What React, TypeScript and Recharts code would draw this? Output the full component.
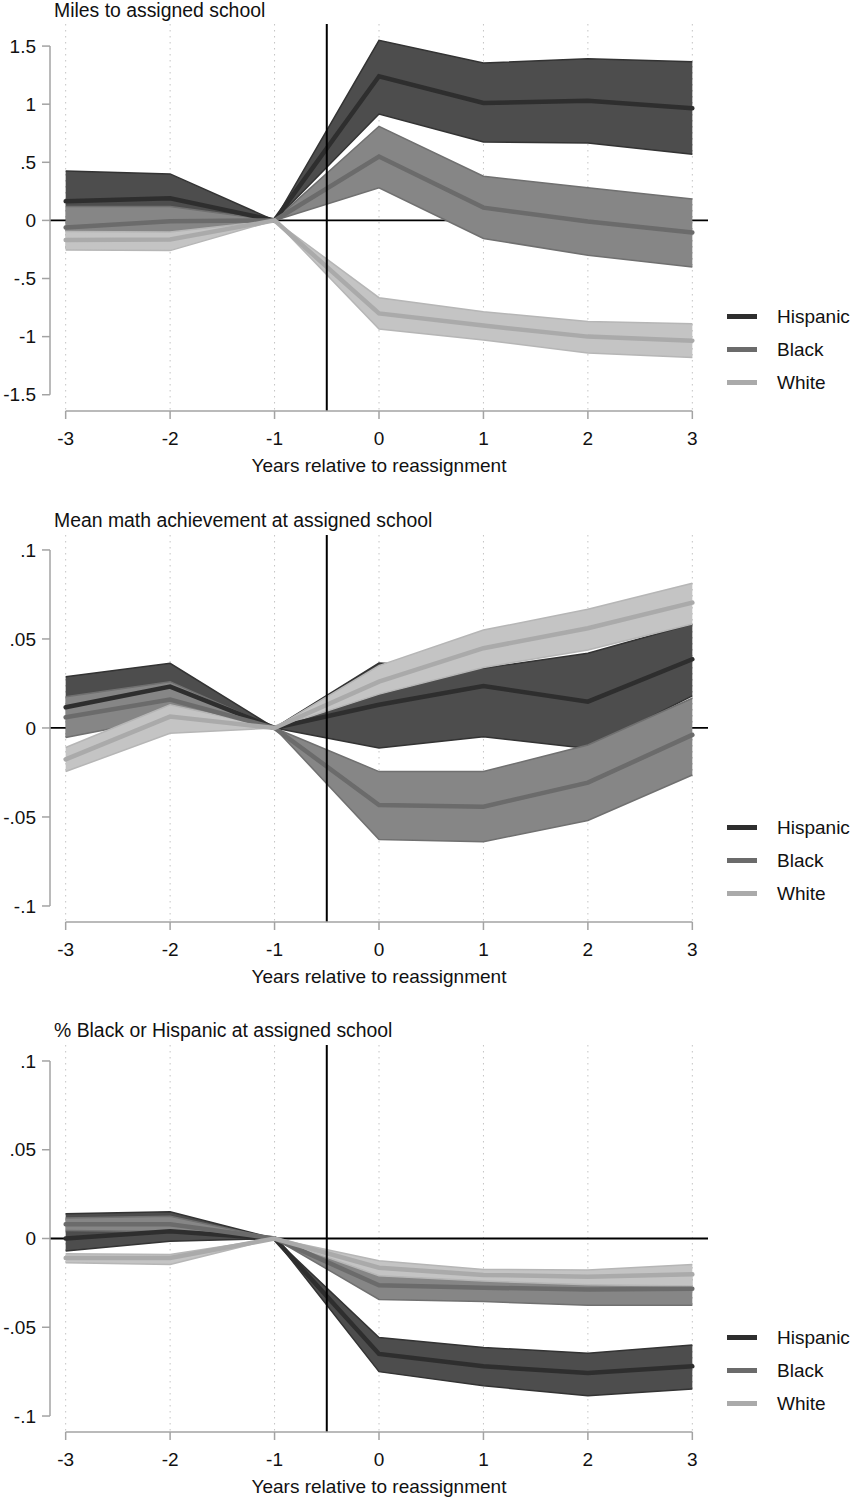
// Event-study panels: change in assigned-school characteristics around reassignment,
// by student race/ethnicity, with 95% confidence bands.

import {
  Area,
  CartesianGrid,
  ComposedChart,
  Line,
  ReferenceLine,
  XAxis,
  YAxis,
} from "recharts";

const FONT = '"Liberation Sans", Arial, Helvetica, sans-serif';

const years = [-3, -2, -1, 0, 1, 2, 3];
const groups = ["Hispanic", "Black", "White"];

// Panel 1: miles to assigned school
const milesHisp = [0.165, 0.19, 0, 1.24, 1.01, 1.03, 0.965];
const milesHispLo = [-0.09, -0.02, 0, 0.915, 0.675, 0.665, 0.57];
const milesHispHi = [0.425, 0.4, 0, 1.55, 1.355, 1.39, 1.365];
const milesBlack = [-0.062, -0.008, 0, 0.55, 0.11, -0.01, -0.105];
const milesBlackLo = [-0.24, -0.21, 0, 0.28, -0.155, -0.3, -0.4];
const milesBlackHi = [0.12, 0.12, 0, 0.81, 0.38, 0.28, 0.185];
const milesWhite = [-0.168, -0.165, 0, -0.8, -0.905, -1.0, -1.035];
const milesWhiteLo = [-0.254, -0.26, 0, -0.935, -1.03, -1.14, -1.18];
const milesWhiteHi = [-0.095, -0.1, 0, -0.665, -0.785, -0.87, -0.89];
const milesTicks = [-1.5, -1, -0.5, 0, 0.5, 1, 1.5];

// Panel 2: mean math achievement at assigned school
const mathHisp = [0.0116, 0.0232, 0, 0.013, 0.0235, 0.0148, 0.0386];
const mathHispLo = [-0.005, 0.009, 0, -0.0113, -0.0049, -0.0115, 0.018];
const mathHispHi = [0.0288, 0.0363, 0, 0.0365, 0.0336, 0.042, 0.0584];
const mathBlack = [0.006, 0.016, 0, -0.0433, -0.0442, -0.0307, -0.0039];
const mathBlackLo = [-0.0054, 0.006, 0, -0.0626, -0.0639, -0.052, -0.0264];
const mathBlackHi = [0.0176, 0.026, 0, -0.0245, -0.0245, -0.0096, 0.0167];
const mathWhite = [-0.0176, 0.0064, 0, 0.026, 0.0448, 0.056, 0.0704];
const mathWhiteLo = [-0.0245, -0.003, 0, 0.019, 0.034, 0.0438, 0.0584];
const mathWhiteHi = [-0.011, 0.013, 0, 0.035, 0.055, 0.0667, 0.0813];
const shareTicks = [-0.1, -0.05, 0, 0.05, 0.1];

// Panel 3: % Black or Hispanic at assigned school
const pctHisp = [0, 0.0041, 0, -0.065, -0.072, -0.0758, -0.072];
const pctHispLo = [-0.007, -0.0015, 0, -0.075, -0.083, -0.0886, -0.0848];
const pctHispHi = [0.014, 0.015, 0, -0.0558, -0.0614, -0.0646, -0.06];
const pctBlack = [0.008, 0.008, 0, -0.0264, -0.0277, -0.0287, -0.0283];
const pctBlackLo = [0.0045, 0.004, 0, -0.0343, -0.0355, -0.0376, -0.0376];
const pctBlackHi = [0.0115, 0.0125, 0, -0.019, -0.022, -0.022, -0.0195];
const pctWhite = [-0.011, -0.011, 0, -0.0165, -0.0205, -0.0215, -0.0202];
const pctWhiteLo = [-0.0137, -0.0146, 0, -0.021, -0.024, -0.026, -0.0268];
const pctWhiteHi = [-0.0086, -0.009, 0, -0.0125, -0.0174, -0.0178, -0.0146];

const LINE = ["#2e2e2e", "#6b6b6b", "#aaaaaa"];
const BAND = ["#4d4d4d", "#868686", "#c4c4c4"];
const EDGE = ["#333333", "#707070", "#b6b6b6"];
const AXIS = "#a3a3a3";

const X_DOMAIN: [number, number] = [-3.15, 3.15];

type Panel = {
  title: string;
  top: number;
  domain: [number, number];
  ticks: number[];
  series: number[][]; // [mid, lo, hi] x 3 groups
};

const panels: Panel[] = [
  {
    title: "Miles to assigned school",
    top: 0,
    domain: [-1.64, 1.69],
    ticks: milesTicks,
    series: [milesHisp, milesHispLo, milesHispHi, milesBlack, milesBlackLo, milesBlackHi, milesWhite, milesWhiteLo, milesWhiteHi],
  },
  {
    title: "Mean math achievement at assigned school",
    top: 511,
    domain: [-0.109, 0.1084],
    ticks: shareTicks,
    series: [mathHisp, mathHispLo, mathHispHi, mathBlack, mathBlackLo, mathBlackHi, mathWhite, mathWhiteLo, mathWhiteHi],
  },
  {
    title: "% Black or Hispanic at assigned school",
    top: 1021,
    domain: [-0.109, 0.109],
    ticks: shareTicks,
    series: [pctHisp, pctHispLo, pctHispHi, pctBlack, pctBlackLo, pctBlackHi, pctWhite, pctWhiteLo, pctWhiteHi],
  },
];

// Stata-style labels: ".5", "-.05"
const fmt = (v: number) => (v === 0 ? "0" : String(v).replace("0.", "."));

const tickStyle = { fill: "#111", fontSize: 19, fontFamily: FONT };

function EventPanel({ p }: { p: Panel }) {
  const rows = years.map((year, i) => {
    const r: Record<string, number | number[]> = { year };
    groups.forEach((_, g) => {
      r[`m${g}`] = p.series[g * 3][i];
      r[`b${g}`] = [p.series[g * 3 + 1][i], p.series[g * 3 + 2][i]];
    });
    return r;
  });
  const yLo = p.ticks[0];
  const yHi = p.ticks[p.ticks.length - 1];
  // first title sits at the very top of the page; keep its box inside
  const titleTop = p.top === 0 ? 1.4 : 0;

  return (
    <div style={{ position: "absolute", left: 0, top: p.top, width: 853, height: 490 }}>
      <div style={{ position: "absolute", left: 54, top: titleTop, fontSize: 19.4, lineHeight: "19px", color: "#111", whiteSpace: "nowrap" }}>
        {p.title}
      </div>
      <ComposedChart width={853} height={480} data={rows} margin={{ top: 24, right: 145, bottom: 0, left: 0 }}>
        {/* dotted verticals at the year ticks only */}
        <CartesianGrid horizontal={false} verticalValues={years} stroke="#c4c4c4" strokeDasharray="1.5 4.5" />
        {/* zero line sits under the bands */}
        <CartesianGrid vertical={false} horizontalValues={[0]} stroke="#000" strokeWidth={1.8} />
        <XAxis
          dataKey="year"
          type="number"
          domain={X_DOMAIN}
          ticks={years}
          interval={0}
          allowDataOverflow
          height={69}
          tickSize={8}
          tickMargin={13}
          axisLine={false}
          tickLine={{ stroke: AXIS, strokeWidth: 1.5 }}
          tick={tickStyle}
          label={{ value: "Years relative to reassignment", position: "insideBottom", offset: 8, fill: "#111", fontSize: 19, fontFamily: FONT }}
        />
        <YAxis
          type="number"
          domain={p.domain}
          ticks={p.ticks}
          interval={0}
          allowDataOverflow
          width={50}
          tickSize={8}
          tickMargin={6}
          axisLine={false}
          tickLine={{ stroke: AXIS, strokeWidth: 1.5 }}
          tick={tickStyle}
          tickFormatter={fmt}
        />
        {groups.map((name, g) => (
          <Area
            key={`band-${name}`}
            type="linear"
            dataKey={`b${g}`}
            fill={BAND[g]}
            fillOpacity={1}
            stroke={EDGE[g]}
            strokeWidth={1.5}
            dot={false}
            activeDot={false}
            legendType="none"
            isAnimationActive={false}
          />
        ))}
        {groups.map((name, g) => (
          <Line
            key={`line-${name}`}
            type="linear"
            dataKey={`m${g}`}
            name={name}
            stroke={LINE[g]}
            strokeWidth={4.5}
            strokeLinecap="round"
            dot={false}
            activeDot={false}
            isAnimationActive={false}
          />
        ))}
        <ReferenceLine x={-0.5} stroke="#000" strokeWidth={2} />
        <ReferenceLine
          segment={[{ x: X_DOMAIN[0], y: yLo }, { x: X_DOMAIN[0], y: yHi }]}
          stroke={AXIS}
          strokeWidth={1.5}
          ifOverflow="visible"
        />
        <ReferenceLine
          segment={[{ x: years[0], y: p.domain[0] }, { x: years[years.length - 1], y: p.domain[0] }]}
          stroke={AXIS}
          strokeWidth={1.5}
          ifOverflow="visible"
        />
      </ComposedChart>
      <LegendBox />
    </div>
  );
}

function LegendBox() {
  return (
    <div style={{ position: "absolute", left: 727, top: 300 }}>
      {groups.map((name, g) => (
        <div key={name} style={{ display: "flex", alignItems: "center", height: 33 }}>
          <span style={{ width: 30, height: 5, background: LINE[g], marginRight: 20 }} />
          <span style={{ fontSize: 19, color: "#111", whiteSpace: "nowrap" }}>{name}</span>
        </div>
      ))}
    </div>
  );
}

export default function App() {
  return (
    <div style={{ position: "absolute", left: 0, top: 0, width: 853, height: 1500, background: "#fff", fontFamily: FONT, overflow: "hidden" }}>
      {panels.map((p) => (
        <EventPanel key={p.title} p={p} />
      ))}
    </div>
  );
}
